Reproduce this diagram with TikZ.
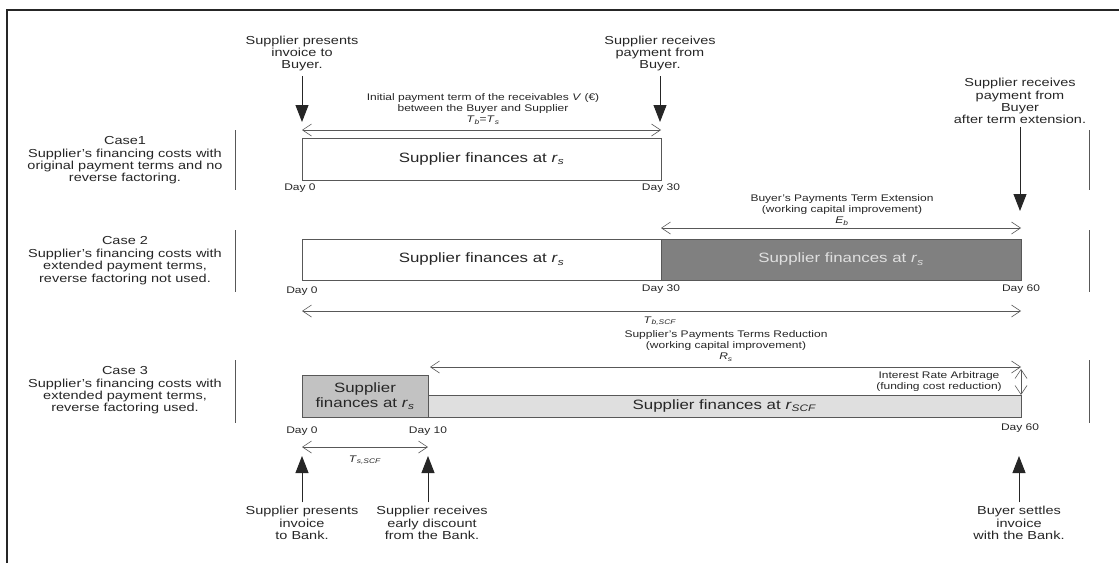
\documentclass[tikz,border=0pt]{standalone}
\usepackage{fontspec}
\setmainfont{Liberation Sans}[FakeStretch=1.25]
\usetikzlibrary{arrows.meta}

\definecolor{txtgray}{HTML}{262626}
\definecolor{linegray}{HTML}{585858}
\definecolor{darkfill}{HTML}{808080}
\definecolor{midfill}{HTML}{C2C2C2}
\definecolor{lightfill}{HTML}{DFDFDF}

\newcommand{\sym}[2]{\textit{#1}\textsubscript{\textit{#2}}}

\tikzset{
  frame/.style={draw=black!85, line width=1.6pt},
  divider/.style={draw=linegray, line width=0.8pt},
  casetext/.style={align=center, inner sep=0pt, text=txtgray, font=\fontsize{11.6}{12.4}\selectfont},
  event/.style={align=center, inner sep=0pt, text=txtgray, font=\fontsize{11.6}{12.2}\selectfont},
  note/.style={align=center, inner sep=0pt, text=txtgray, font=\fontsize{9.6}{11}\selectfont},
  daylabel/.style={inner sep=0pt, text=txtgray, font=\fontsize{9.6}{10}\selectfont},
  bar/.style={draw=linegray, line width=0.7pt, inner sep=0pt, outer sep=0pt, anchor=north west,
    text=txtgray, align=center, font=\fontsize{13.5}{14.5}\selectfont},
  span/.style={draw=linegray, line width=0.6pt,
    {Straight Barb[length=9pt,width=12pt]}-{Straight Barb[length=9pt,width=12pt]}},
  pointer/.style={draw=black!85, line width=0.9pt, -{Triangle[width=13pt,length=17pt]}},
}

\begin{document}
\begin{tikzpicture}[x=1pt,y=-1pt]
    \useasboundingbox (0,0) rectangle (1119,563);

    % Frame
    \draw[frame] (7,563) -- (7,10) -- (1119,10);

    %% Case 1: original terms
    \node[casetext] (case1) at (125,160.5) {Case1\\Supplier's financing costs with\\original payment terms and no\\reverse factoring.};
    \draw[divider] (235,130) -- (235,190);
    \draw[divider] (1089,130) -- (1089,190);

    % Bar
    \node[bar, minimum width=359pt, minimum height=42pt] (bar1) at (302,138) {Supplier finances at \sym{r}{s}};
    \node[daylabel] (day1a) at (300,188) {Day 0};
    \node[daylabel] (day1b) at (661,188) {Day 30};

    % Initial term
    \coordinate (term1l) at (302,130);
    \coordinate (term1r) at (661,130);
    \draw[span] (term1l) -- (term1r);
    \node[note] (term1) at (483,109) {Initial payment term of the receivables \textit{V} (€)\\between the Buyer and Supplier\\\sym{T}{b}=\sym{T}{s}};

    % Events
    \node[event] (ev1) at (302,53.3) {Supplier presents\\invoice to\\Buyer.};
    \coordinate (tip1) at (302,122);
    \draw[pointer, shorten <=5pt] (ev1.south) -- (tip1);
    \node[event] (ev2) at (660,53.3) {Supplier receives\\payment from\\Buyer.};
    \coordinate (tip2) at (660,122);
    \draw[pointer, shorten <=5pt] (ev2.south) -- (tip2);

    %% Case 2: extended terms
    \node[casetext] (case2) at (125,260.7) {Case 2\\Supplier's financing costs with\\extended payment terms,\\reverse factoring not used.};
    \draw[divider] (235,230) -- (235,292);
    \draw[divider] (1089,230) -- (1089,292);

    % Bars
    \node[bar, minimum width=359pt, minimum height=41pt] (bar2a) at (302,239) {Supplier finances at \sym{r}{s}};
    \node[bar, minimum width=360pt, minimum height=41pt, fill=darkfill, text=white!88!black] (bar2b) at (661,239) {Supplier finances at \sym{r}{s}};
    \node[daylabel] (day2a) at (302,291) {Day 0};
    \node[daylabel] (day2b) at (661,289) {Day 30};
    \node[daylabel] (day2c) at (1021,289) {Day 60};

    % Term extension
    \coordinate (ext2l) at (661,228);
    \coordinate (ext2r) at (1021,228);
    \draw[span] (ext2l) -- (ext2r);
    \node[note] (ext2) at (842,210) {Buyer's Payments Term Extension\\(working capital improvement)\\\sym{E}{b}};

    % Total term
    \coordinate (tot2l) at (302,311);
    \coordinate (tot2r) at (1021,311);
    \draw[span] (tot2l) -- (tot2r);
    \node[note] (tot2) at (660,321) {\sym{T}{b,SCF}};

    % Event
    \node[event] (ev3) at (1020,101) {Supplier receives\\payment from\\Buyer\\after term extension.};
    \coordinate (tip3) at (1020,211);
    \draw[pointer, shorten <=3pt] (ev3.south) -- (tip3);

    %% Case 3: reverse factoring
    \node[casetext] (case3) at (125,390.5) {Case 3\\Supplier's financing costs with\\extended payment terms,\\reverse factoring used.};
    \draw[divider] (235,360) -- (235,423);
    \draw[divider] (1089,360) -- (1089,423);

    % Bars
    \node[bar, minimum width=126pt, minimum height=42pt, fill=midfill] (bar3a) at (302,375) {Supplier\\finances at \sym{r}{s}};
    \node[bar, minimum width=593pt, minimum height=22pt, fill=lightfill, anchor=south west] (bar3b) at (bar3a.south east) {Supplier finances at \sym{r}{SCF}};
    \node[daylabel] (day3a) at (302,431) {Day 0};
    \node[daylabel] (day3b) at (428,431) {Day 10};
    \node[daylabel] (day3c) at (1020,428) {Day 60};

    % Term reduction
    \coordinate (red3l) at (430,367);
    \coordinate (red3r) at (1021,367);
    \draw[span] (red3l) -- (red3r);
    \node[note] (red3) at (726,346) {Supplier's Payments Terms Reduction\\(working capital improvement)\\\sym{R}{s}};

    % Arbitrage
    \coordinate (arb3t) at (1021,369);
    \draw[span] (arb3t) -- (bar3b.north east);
    \node[note] (arb3) at (939,382) {Interest Rate Arbitrage\\(funding cost reduction)};

    % Early payment term
    \coordinate (early3l) at (302,447);
    \coordinate (early3r) at (428,447);
    \draw[span] (early3l) -- (early3r);
    \node[note] (early3) at (365,460) {\sym{T}{s,SCF}};

    % Events
    \node[event] (ev4) at (302,523) {Supplier presents\\invoice\\to Bank.};
    \coordinate (tip4) at (302,456);
    \draw[pointer, shorten <=4pt] (ev4.north) -- (tip4);
    \node[event] (ev5) at (432,523) {Supplier receives\\early discount\\from the Bank.};
    \coordinate (tip5) at (428,456);
    \draw[pointer, shorten <=4pt] (ev5.north -| tip5) -- (tip5);
    \node[event] (ev6) at (1019,523) {Buyer settles\\invoice\\with the Bank.};
    \coordinate (tip6) at (1019,456);
    \draw[pointer, shorten <=4pt] (ev6.north) -- (tip6);

\end{tikzpicture}
\end{document}
